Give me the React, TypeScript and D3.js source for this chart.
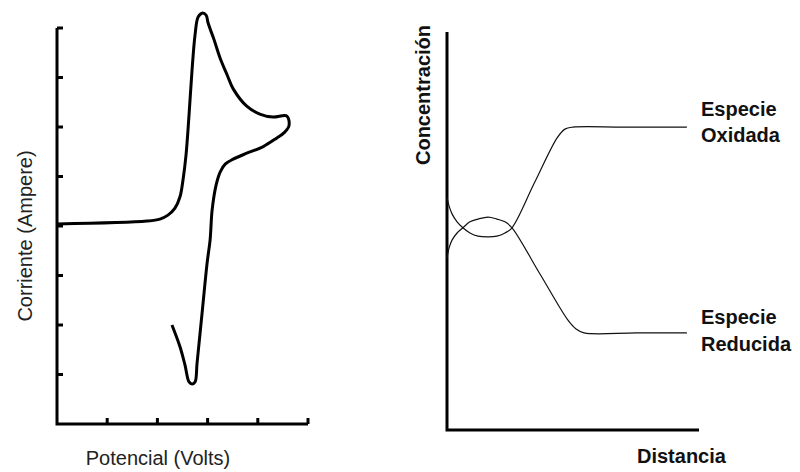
import React from "react";
import * as d3 from "d3";

// Left chart: cyclic voltammogram (Potencial vs Corriente)
const cvPotential = [0, 1.79, 2.05, 2.21, 2.35, 2.45, 2.51, 2.57, 2.63, 2.69, 2.75, 2.81, 2.89, 2.97, 3.01, 3.13, 3.25, 3.39, 3.51, 3.78, 4.04, 4.3, 4.58, 4.62, 4.52, 4.38, 4.1, 3.78, 3.51, 3.35, 3.25, 3.17, 3.09, 3.05, 2.99, 2.89, 2.79, 2.75, 2.69, 2.63, 2.55, 2.45, 2.29];
const cvCurrent = [0.04, 0.1, 0.14, 0.22, 0.36, 0.59, 0.93, 1.43, 2.24, 3.15, 3.86, 4.22, 4.3, 4.26, 4.1, 3.76, 3.39, 3.05, 2.77, 2.42, 2.26, 2.2, 2.22, 2.02, 1.88, 1.78, 1.6, 1.47, 1.35, 1.25, 1.09, 0.83, 0.32, -0.28, -0.75, -1.76, -2.77, -3.15, -3.19, -3.15, -2.81, -2.44, -2.0];
const cvXTicks = [1, 2, 3, 4, 5];
const cvYTicks = [-3, -2, -1, 0, 1, 2, 3, 4];

// Right chart: concentration profiles vs distance
const oxDist = [0, 0.8, 2.0, 4.0, 6.3, 9.1, 12.3, 16.3, 19.8, 23.0, 25.8, 34.7, 43.7, 46.8, 50.0, 70.0, 95.2];
const oxConc = [58.5, 56.3, 54.3, 52.3, 50.8, 49.5, 48.7, 48.5, 48.7, 49.5, 50.8, 62.1, 73.4, 75.6, 76.1, 76.1, 76.1];
const redDist = [0, 0.8, 2.0, 4.0, 6.3, 9.1, 12.3, 16.3, 19.8, 23.0, 25.8, 36.9, 48.0, 51.2, 54.4, 75.0, 95.2];
const redConc = [43.2, 45.7, 47.7, 49.5, 50.8, 52.3, 53.0, 53.5, 53.0, 52.3, 50.8, 39.2, 27.6, 25.4, 24.4, 24.4, 24.4];

const FONT = "'Liberation Sans', Arial, sans-serif";

export default function App() {
  const xL = d3.scaleLinear().domain([0, 5]).range([57, 308]);
  const yL = d3.scaleLinear().domain([-4, 4]).range([424, 28]);
  const xR = d3.scaleLinear().domain([0, 100]).range([447, 699]);
  const yR = d3.scaleLinear().domain([0, 100]).range([430, 32]);

  const cvPts: [number, number][] = cvPotential.map((e, i) => [e, cvCurrent[i]]);
  const lineL = d3
    .line<[number, number]>()
    .x((d) => xL(d[0]))
    .y((d) => yL(d[1]))
    .curve(d3.curveCatmullRom.alpha(0.5));

  const oxPts: [number, number][] = oxDist.map((x, i) => [x, oxConc[i]]);
  const redPts: [number, number][] = redDist.map((x, i) => [x, redConc[i]]);
  const lineR = d3
    .line<[number, number]>()
    .x((d) => xR(d[0]))
    .y((d) => yR(d[1]))
    .curve(d3.curveCatmullRom.alpha(0.5));

  const [x0, x1] = xL.domain();
  const [y0, y1] = yL.domain();

  return (
    <svg
      width={800}
      height={472}
      style={{ position: "absolute", left: 0, top: 0, background: "#fff" }}
    >
      <rect x={0} y={0} width={800} height={472} fill="#fff" />
      {/* Left chart axes */}
      <path
        d={`M${xL(x0)},${yL(y1)} L${xL(x0)},${yL(y0)} L${xL(x1)},${yL(y0)}`}
        fill="none"
        stroke="#000"
        strokeWidth={3}
      />
      {cvYTicks.map((t) => (
        <line key={"yt" + t} x1={xL(x0)} x2={xL(x0) + 6} y1={yL(t)} y2={yL(t)} stroke="#000" strokeWidth={3} />
      ))}
      {cvXTicks.map((t) => (
        <line key={"xt" + t} x1={xL(t)} x2={xL(t)} y1={yL(y0)} y2={yL(y0) - 6} stroke="#000" strokeWidth={3} />
      ))}
      <path d={lineL(cvPts) || ""} fill="none" stroke="#000" strokeWidth={3} strokeLinejoin="round" />
      <text
        x={0}
        y={0}
        transform={`translate(32,236) rotate(-90)`}
        textAnchor="middle"
        fontFamily={FONT}
        fontSize={20}
        fill="#222"
      >
        Corriente (Ampere)
      </text>
      <text x={158} y={465} textAnchor="middle" fontFamily={FONT} fontSize={20} fill="#222">
        Potencial (Volts)
      </text>

      {/* Right chart axes */}
      <path
        d={`M${xR(0)},${yR(100)} L${xR(0)},${yR(0)} L${xR(100)},${yR(0)}`}
        fill="none"
        stroke="#000"
        strokeWidth={3}
      />
      <path d={lineR(oxPts) || ""} fill="none" stroke="#111" strokeWidth={1.2} />
      <path d={lineR(redPts) || ""} fill="none" stroke="#111" strokeWidth={1.2} />
      <text
        x={0}
        y={0}
        transform={`translate(430,95) rotate(-90)`}
        textAnchor="middle"
        fontFamily={FONT}
        fontWeight="bold"
        fontSize={20}
        fill="#111"
      >
        Concentración
      </text>
      <text x={637} y={463} fontFamily={FONT} fontWeight="bold" fontSize={20} fill="#111">
        Distancia
      </text>
      <text x={701} y={116} fontFamily={FONT} fontWeight="bold" fontSize={20} fill="#111">
        Especie
      </text>
      <text x={701} y={142} fontFamily={FONT} fontWeight="bold" fontSize={20} fill="#111">
        Oxidada
      </text>
      <text x={701} y={324} fontFamily={FONT} fontWeight="bold" fontSize={20} fill="#111">
        Especie
      </text>
      <text x={701} y={351} fontFamily={FONT} fontWeight="bold" fontSize={20} fill="#111">
        Reducida
      </text>
    </svg>
  );
}
